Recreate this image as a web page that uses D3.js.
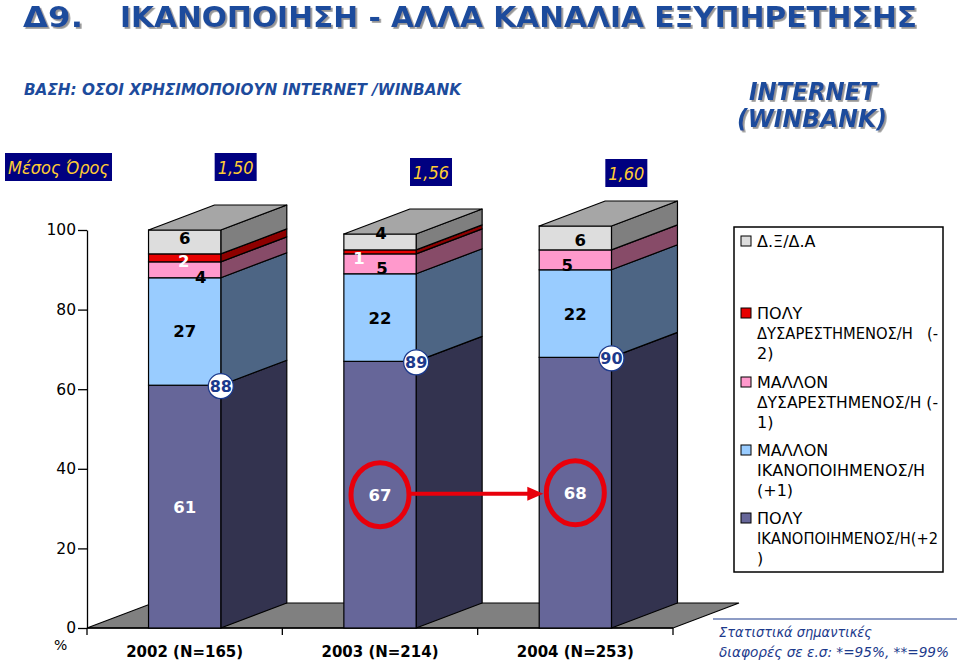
<!DOCTYPE html>
<html>
<head>
<meta charset="utf-8">
<script src="https://cdn.jsdelivr.net/npm/d3@7/dist/d3.min.js"></script>
<style>
  body { margin: 0; background: #fff; }
  svg { display: block; }
</style>
</head>
<body>
<div id="chart"></div>
<script>
// data
var years = ["2002 (N=165)", "2003 (N=214)", "2004 (N=253)"];
var veryHigh = [61, 67, 68];   // ΠΟΛΥ ΙΚΑΝΟΠΟΙΗΜΕΝΟΣ/Η (+2)
var ratherHigh = [27, 22, 22]; // ΜΑΛΛΟΝ ΙΚΑΝΟΠΟΙΗΜΕΝΟΣ/Η (+1)
var ratherLow = [4, 5, 5];     // ΜΑΛΛΟΝ ΔΥΣΑΡΕΣΤΗΜΕΝΟΣ/Η (-1)
var veryLow = [2, 1, 0];       // ΠΟΛΥ ΔΥΣΑΡΕΣΤΗΜΕΝΟΣ/Η (-2)
var dkna = [6, 4, 6];          // Δ.Ξ/Δ.Α
var means = ["1,50", "1,56", "1,60"];
var yTicks = [0, 20, 40, 60, 80, 100];
var legendLines = [
  ["Δ.Ξ/Δ.Α"],
  ["ΠΟΛΥ", "ΔΥΣΑΡΕΣΤΗΜΕΝΟΣ/Η   (-", "2)"],
  ["ΜΑΛΛΟΝ", "ΔΥΣΑΡΕΣΤΗΜΕΝΟΣ/Η (-", "1)"],
  ["ΜΑΛΛΟΝ", "ΙΚΑΝΟΠΟΙΗΜΕΝΟΣ/Η", "(+1)"],
  ["ΠΟΛΥ", "ΙΚΑΝΟΠΟΙΗΜΕΝΟΣ/Η(+2", ")"]
];

// basic settings
var W = 959, H = 664;
var dx = 66, dy = -25;  // depth of the 3d bars
var font = "'DejaVu Sans', Verdana, sans-serif";
var keys = ["vh", "rh", "rl", "vl", "dk"];
var front = { vh: "#666699", rh: "#99ccff", rl: "#ff99cc", vl: "#e60000", dk: "#dddddd" };
var side = { vh: "#33334f", rh: "#4d6584", rl: "#874b68", vl: "#8e0000", dk: "#7f7f7f" };
var topCol = "#a6a6a6";
var labelCol = { vh: "#fff", rh: "#000", rl: "#000", vl: "#fff", dk: "#000" };
var blue = "#1d4b9c";
// hand-moved label nudges (as in the original slide) [dx, dy] per year
var nudge = {
  rl: [[16, 7], [2, 4], [-8, 5]],
  vl: [[-1, 3], [-21, 6], [0, 0]],
  dk: [[0, -4], [1, -9], [5, 2]]
};

var rows = years.map(function(y, i) {
  return { year: y, vh: veryHigh[i], rh: ratherHigh[i], rl: ratherLow[i], vl: veryLow[i], dk: dkna[i] };
});
var stacked = d3.stack().keys(keys)(rows);

var svg = d3.select("#chart").append("svg")
  .attr("width", W)
  .attr("height", H);

// soft grey shadow for the headings
svg.append("defs").append("filter")
  .attr("id", "shadow")
  .attr("x", "-5%").attr("y", "-20%").attr("width", "110%").attr("height", "140%")
  .append("feDropShadow")
  .attr("dx", 1.8).attr("dy", 1.8).attr("stdDeviation", 0.6)
  .attr("flood-color", "#8a8a8a").attr("flood-opacity", 0.9);

var x = d3.scaleBand().domain(years).range([87, 673]).padding(0);
var y = d3.scaleLinear().domain([0, 100]).range([628, 230]);
var bw = x.bandwidth() * 0.37;
function bx(d) { return x(d) + (x.bandwidth() - bw) / 2; }

// headings
function heading(t, px, py, size, len, style) {
  svg.append("text")
    .attr("x", px).attr("y", py)
    .attr("font-family", "'DejaVu Sans Condensed', 'DejaVu Sans', sans-serif")
    .attr("font-weight", "bold")
    .attr("font-style", style)
    .attr("font-size", size)
    .attr("textLength", len)
    .attr("lengthAdjust", "spacingAndGlyphs")
    .attr("fill", blue)
    .attr("filter", "url(#shadow)")
    .text(t);
}
heading("Δ9.", 23, 27, 29, 60, "normal");
heading("ΙΚΑΝΟΠΟΙΗΣΗ - ΑΛΛΑ ΚΑΝΑΛΙΑ ΕΞΥΠΗΡΕΤΗΣΗΣ", 120, 27, 29, 797, "normal");
svg.append("text")
  .attr("x", 24).attr("y", 95)
  .attr("font-family", "'DejaVu Sans Condensed', 'DejaVu Sans', sans-serif")
  .attr("font-weight", "bold").attr("font-style", "italic")
  .attr("font-size", 15)
  .attr("textLength", 437).attr("lengthAdjust", "spacingAndGlyphs")
  .attr("fill", blue)
  .text("ΒΑΣΗ: ΟΣΟΙ ΧΡΗΣΙΜΟΠΟΙΟΥΝ INTERNET /WINBANK");
heading("INTERNET", 749, 100, 24, 127, "italic");
heading("(WINBANK)", 737, 127, 24, 150, "italic");

// mean boxes
function meanBox(t, x0, y0, w) {
  svg.append("rect")
    .attr("x", x0).attr("y", y0).attr("width", w).attr("height", 28)
    .attr("fill", "#000080");
  svg.append("text")
    .attr("x", x0 + w / 2).attr("y", y0 + 21)
    .attr("text-anchor", "middle")
    .attr("font-family", "'DejaVu Sans Condensed', 'DejaVu Sans', sans-serif")
    .attr("font-style", "italic")
    .attr("font-size", 17)
    .attr("textLength", w - 6).attr("lengthAdjust", "spacingAndGlyphs")
    .attr("fill", "#ffcc33")
    .text(t);
}
meanBox("Μέσος Όρος", 5, 153, 107);
var meanY = [153, 158, 159];
means.forEach(function(m, i) {
  meanBox(m, x(years[i]) + x.bandwidth() / 2 + 30, meanY[i], 42);
});

// floor
var x0 = x.range()[0], x1 = x.range()[1];
svg.append("polygon")
  .attr("points", [[x0, y(0)], [x0 + dx, y(0) + dy], [x1 + dx, y(0) + dy], [x1, y(0)]].join(" "))
  .attr("fill", "#808080")
  .attr("stroke", "#000")
  .attr("stroke-width", 1.2);

// y axis
var yAxis = svg.append("g")
  .attr("transform", "translate(" + x0 + ",0)")
  .call(d3.axisLeft(y).tickValues(yTicks).tickSize(9).tickSizeOuter(0).tickPadding(2));
yAxis.selectAll("text").attr("font-family", font).attr("font-size", 15.5).attr("fill", "#000");
yAxis.selectAll("line, path").attr("stroke", "#000").attr("stroke-width", 1.3);
svg.append("text")
  .attr("x", 54).attr("y", 650)
  .attr("font-family", font).attr("font-size", 14)
  .text("%");

// x axis
svg.append("line")
  .attr("x1", x0).attr("x2", x1).attr("y1", y(0)).attr("y2", y(0))
  .attr("stroke", "#000").attr("stroke-width", 1.3);
years.concat([null]).forEach(function(d) {
  var tx = d ? x(d) : x1;
  svg.append("line")
    .attr("x1", tx).attr("x2", tx).attr("y1", y(0)).attr("y2", y(0) + 7)
    .attr("stroke", "#000").attr("stroke-width", 1.3);
});
svg.selectAll(".xlab").data(years).enter().append("text")
  .attr("class", "xlab")
  .attr("x", function(d) { return x(d) + x.bandwidth() / 2; })
  .attr("y", 657)
  .attr("text-anchor", "middle")
  .attr("font-family", font).attr("font-weight", "bold").attr("font-size", 15.5)
  .attr("textLength", 117).attr("lengthAdjust", "spacingAndGlyphs")
  .text(function(d) { return d; });

// 3d bars
var bars = svg.append("g");
years.forEach(function(yr, i) {
  var fx = bx(yr), rx = fx + bw;
  var topY = null;
  stacked.forEach(function(layer) {
    var s = layer[i];
    if (s[1] - s[0] <= 0) return;
    var yt = y(s[1]), yb = y(s[0]);
    bars.append("polygon")
      .attr("points", [[rx, yb], [rx + dx, yb + dy], [rx + dx, yt + dy], [rx, yt]].join(" "))
      .attr("fill", side[layer.key])
      .attr("stroke", "#000").attr("stroke-width", 1.2).attr("stroke-linejoin", "round");
    bars.append("rect")
      .attr("x", fx).attr("y", yt).attr("width", bw).attr("height", yb - yt)
      .attr("fill", front[layer.key])
      .attr("stroke", "#000").attr("stroke-width", 1.2);
    topY = yt;
  });
  bars.append("polygon")
    .attr("points", [[fx, topY], [fx + dx, topY + dy], [rx + dx, topY + dy], [rx, topY]].join(" "))
    .attr("fill", topCol)
    .attr("stroke", "#000").attr("stroke-width", 1.2).attr("stroke-linejoin", "round");
});

// segment labels
var labels = svg.append("g");
var labelPos = {};
stacked.forEach(function(layer) {
  layer.forEach(function(s, i) {
    var v = s[1] - s[0];
    if (v <= 0) return;
    var n = nudge[layer.key] ? nudge[layer.key][i] : [0, 0];
    var cx = bx(years[i]) + bw / 2 + n[0];
    var cy = y((s[0] + s[1]) / 2) + n[1];
    labelPos[layer.key + i] = [cx, cy];
    labels.append("text")
      .attr("x", cx).attr("y", cy + 6)
      .attr("text-anchor", "middle")
      .attr("font-family", font).attr("font-weight", "bold").attr("font-size", 16.5)
      .attr("fill", labelCol[layer.key])
      .text(v);
  });
});

// total satisfied (+2 and +1) in circles
years.forEach(function(yr, i) {
  var tot = veryHigh[i] + ratherHigh[i];
  var cx = bx(yr) + bw, cy = y(veryHigh[i]) + 1;
  labels.append("circle")
    .attr("cx", cx).attr("cy", cy).attr("r", 12.5)
    .attr("fill", "#fff").attr("stroke", "#1c3a8c").attr("stroke-width", 1.3);
  labels.append("text")
    .attr("x", cx).attr("y", cy + 6)
    .attr("text-anchor", "middle")
    .attr("font-family", font).attr("font-weight", "bold").attr("font-size", 16)
    .attr("fill", "#1c3a8c")
    .text(tot);
});

// red ellipses and arrow 2003 -> 2004
var pA = labelPos.vh1, pB = labelPos.vh2;
var erx = 29, ery = 32;
[pA, pB].forEach(function(p) {
  labels.append("ellipse")
    .attr("cx", p[0]).attr("cy", p[1]).attr("rx", erx).attr("ry", ery)
    .attr("fill", "none").attr("stroke", "#e8000b").attr("stroke-width", 5);
});
var ay = (pA[1] + pB[1]) / 2;
var ax1 = pA[0] + erx + 2, ax2 = pB[0] - erx - 3;
labels.append("line")
  .attr("x1", ax1).attr("x2", ax2 - 14).attr("y1", ay).attr("y2", ay)
  .attr("stroke", "#e8000b").attr("stroke-width", 4);
labels.append("polygon")
  .attr("points", [[ax2, ay], [ax2 - 16, ay - 7], [ax2 - 16, ay + 7]].join(" "))
  .attr("fill", "#e8000b");

// legend
var leg = svg.append("g");
leg.append("rect")
  .attr("x", 734).attr("y", 227).attr("width", 209).attr("height", 345)
  .attr("fill", "#fff").attr("stroke", "#000").attr("stroke-width", 1.5);
var legKeys = ["dk", "vl", "rl", "rh", "vh"];
var legY = [247, 319, 388, 456, 524];
var legMax = 181;
legKeys.forEach(function(k, i) {
  leg.append("rect")
    .attr("x", 741).attr("y", legY[i] - 11).attr("width", 10).attr("height", 10)
    .attr("fill", front[k]).attr("stroke", "#000").attr("stroke-width", 1);
  legendLines[i].forEach(function(line, j) {
    var t = leg.append("text")
      .attr("x", 757).attr("y", legY[i] + j * 20)
      .attr("font-family", font).attr("font-size", 16)
      .attr("fill", "#000")
      .attr("xml:space", "preserve")
      .text(line);
    if (t.node().getComputedTextLength() > legMax) {
      t.attr("textLength", legMax).attr("lengthAdjust", "spacingAndGlyphs");
    }
  });
});

// note
svg.append("line")
  .attr("x1", 713).attr("x2", 957).attr("y1", 619).attr("y2", 619)
  .attr("stroke", "#1c3a8c").attr("stroke-width", 1.2);
svg.append("text")
  .attr("x", 719).attr("y", 637)
  .attr("font-family", font).attr("font-style", "italic").attr("font-size", 14)
  .attr("textLength", 153).attr("lengthAdjust", "spacingAndGlyphs")
  .attr("fill", "#1c3a8c")
  .text("Στατιστικά σημαντικές");
svg.append("text")
  .attr("x", 719).attr("y", 657)
  .attr("font-family", font).attr("font-style", "italic").attr("font-size", 14)
  .attr("textLength", 230).attr("lengthAdjust", "spacingAndGlyphs")
  .attr("fill", "#1c3a8c")
  .text("διαφορές σε ε.σ: *=95%, **=99%");
</script>
</body>
</html>
